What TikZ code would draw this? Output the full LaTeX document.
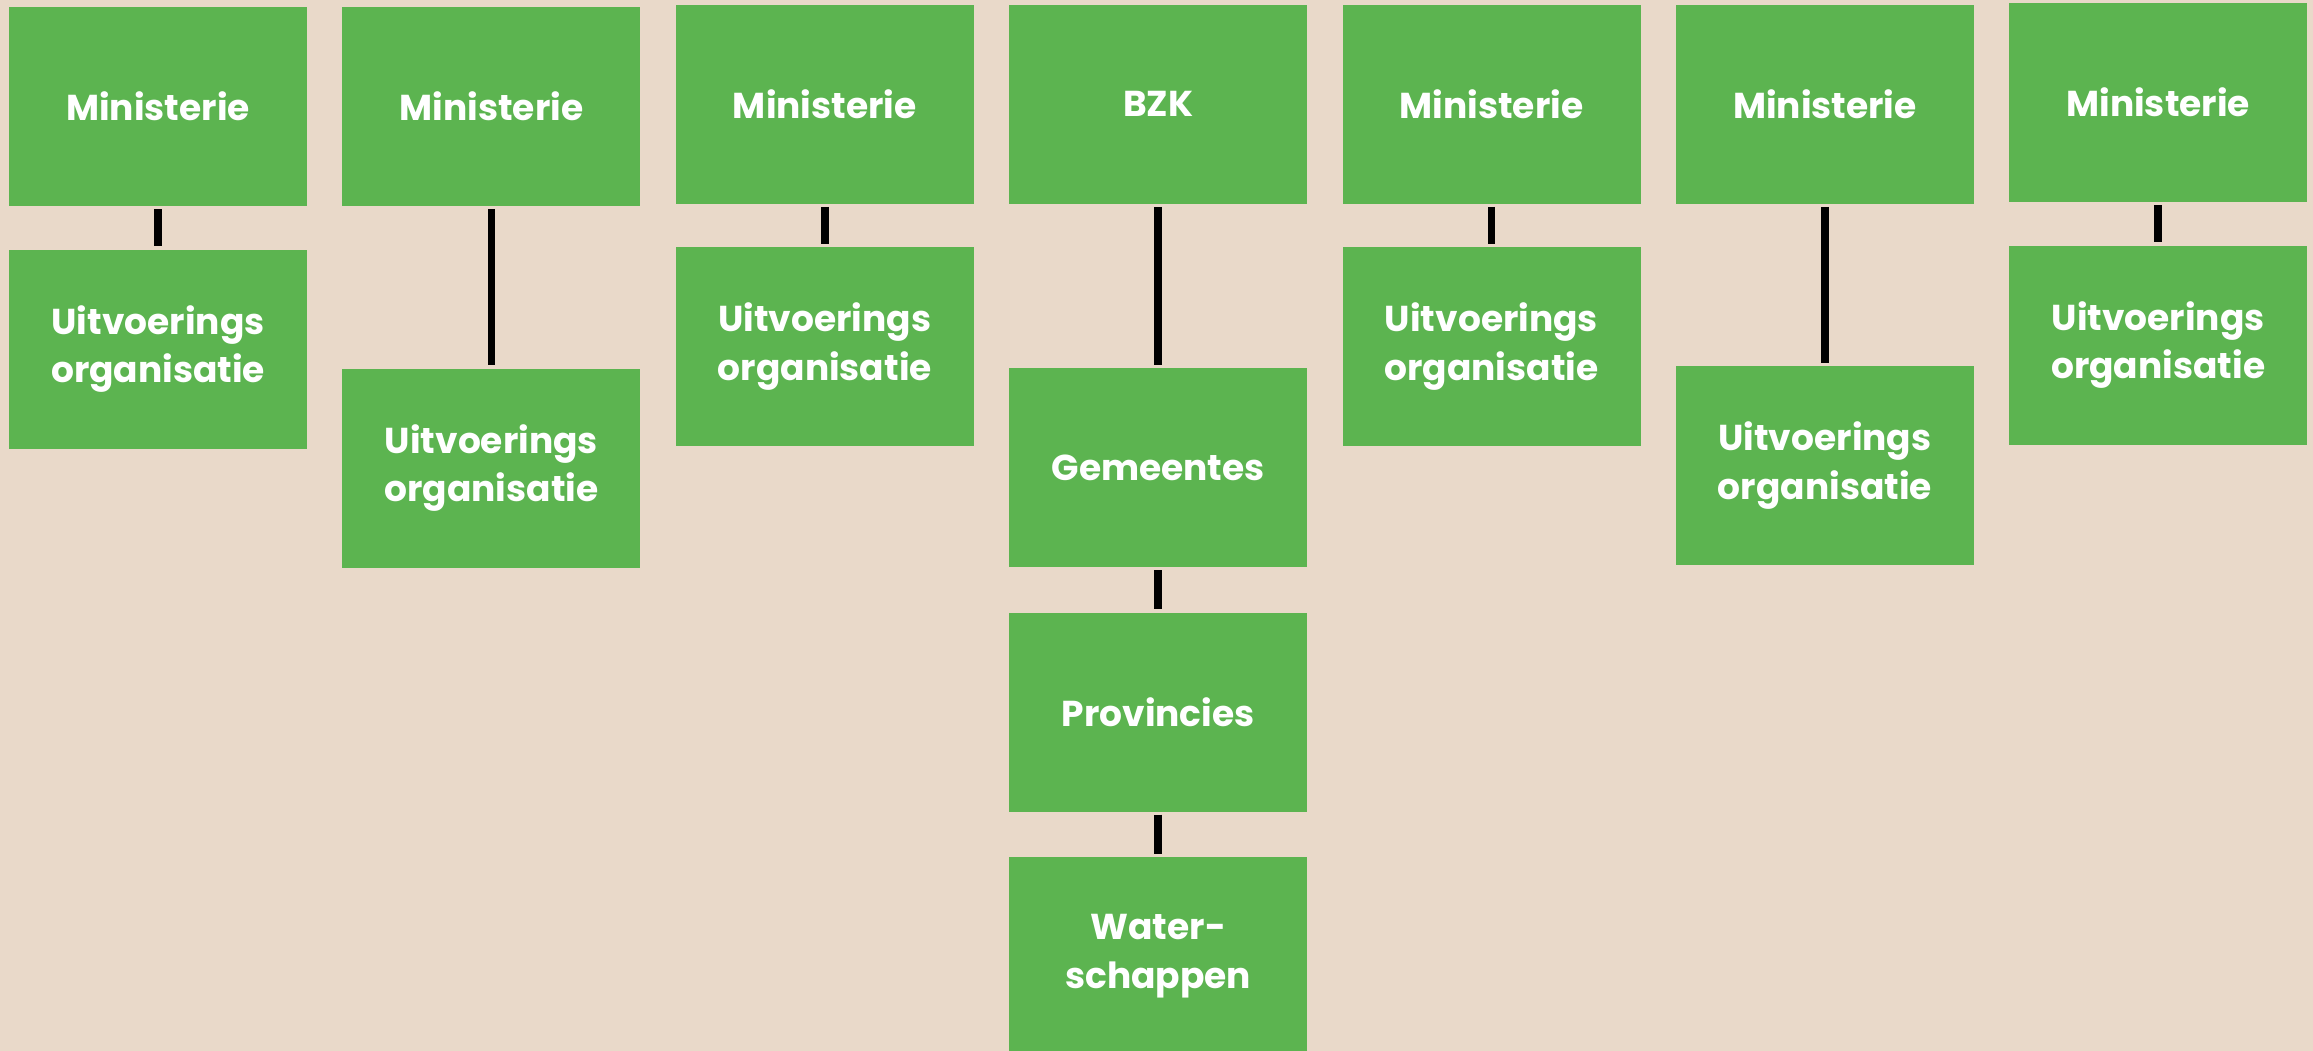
\documentclass[tikz,border=0pt]{standalone}
\usepackage{fontspec}
\setmainfont{Poppins}
\usetikzlibrary{positioning}
\definecolor{orggreen}{RGB}{92,180,80}
\definecolor{bgbeige}{RGB}{233,217,201}
\begin{document}
\begin{tikzpicture}[x=1pt,y=-1pt,
  box/.style={fill=orggreen,minimum width=298pt,minimum height=199pt,inner sep=0,
    text=white,align=center,anchor=north west,font=\bfseries\fontsize{36}{48.7}\selectfont},
  link/.style={line width=7.6pt,shorten >=3pt,shorten <=3pt}]
  \useasboundingbox (0,0) rectangle (2313,1051);
  \clip (0,0) rectangle (2313,1051);
  \fill[bgbeige] (0,0) rectangle (2313,1051);
  % ministeries with their uitvoeringsorganisatie
  \foreach \i/\x/\y/\gap in {1/8.9/7/43pt,2/342.2/7/162pt,3/675.6/4.5/43pt,
                             5/1342.3/4.5/43pt,6/1675.7/4.5/162pt,7/2009/3/43pt}{
    \node [box] (m\i) at (\x,\y) {Ministerie};
    \node [box,below=\gap of m\i] (u\i) {Uitvoerings\\organisatie};
    \draw[link] (m\i) -- (u\i);
  }
  % BZK column
  \node [box] (bzk) at (1009,4.5) {BZK};
  \node [box,below=164pt of bzk] (gem) {Gemeentes};
  \node [box,below=45pt of gem] (prov) {Provincies};
  \node [box,below=45pt of prov] (water) {Water-\\schappen};
  \draw[link] (bzk) -- (gem);
  \draw[link] (gem) -- (prov);
  \draw[link] (prov) -- (water);
\end{tikzpicture}
\end{document}
